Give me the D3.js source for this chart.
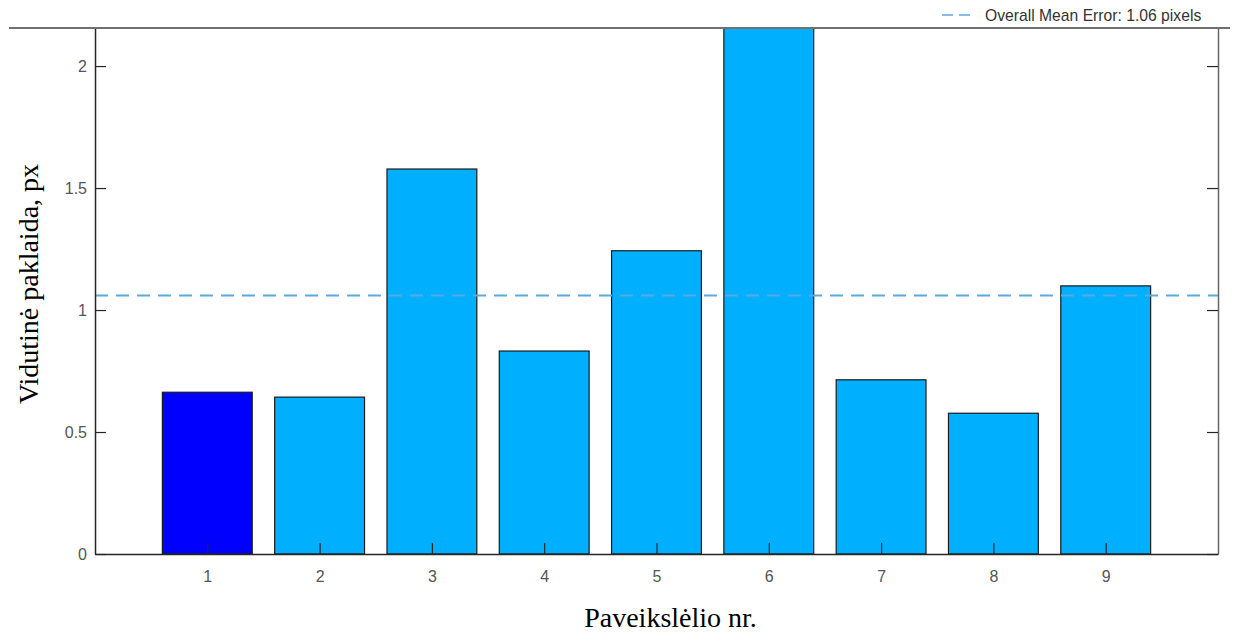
<!DOCTYPE html>
<html>
<head>
<meta charset="utf-8">
<script src="https://cdn.jsdelivr.net/npm/d3@7"></script>
<style>
  body { margin: 0; background: #fff; }
  svg { display: block; }
</style>
</head>
<body>
<svg id="chart" width="1238" height="633"></svg>
<script>
// image numbers and their mean error (px)
const images = [1, 2, 3, 4, 5, 6, 7, 8, 9];
const errors = [0.663, 0.643, 1.578, 0.832, 1.243, 2.19, 0.714, 0.577, 1.099];
const meanError = 1.06;
const yTicks = [0, 0.5, 1, 1.5, 2];
const legendText = 'Overall Mean Error: 1.06 pixels';

const svg = d3.select('#chart');
const plotL = 95, plotR = 1218, plotT = 28, plotB = 554;

// scales
const x = d3.scaleLinear().domain([0, 10]).range([plotL, plotR]);
const y = d3.scaleLinear().domain([0, 2.156]).range([plotB, plotT]);
const barW = x(0.8) - x(0);

svg.append('defs').append('clipPath').attr('id', 'clip')
  .append('rect')
  .attr('x', plotL).attr('y', plotT)
  .attr('width', plotR - plotL).attr('height', plotB - plotT);

// bars
svg.append('g').attr('clip-path', 'url(#clip)')
  .selectAll('rect')
  .data(images)
  .enter()
  .append('rect')
  .attr('x', (d) => x(d) - barW / 2)
  .attr('y', (d, i) => y(errors[i]))
  .attr('width', barW)
  .attr('height', (d, i) => plotB - y(errors[i]))
  .style('fill', (d, i) => (i === 0 ? '#0000ff' : '#00b0ff'))
  .style('stroke', '#1a1a1a')
  .style('stroke-width', 1.2);

// mean line
svg.append('line')
  .attr('x1', plotL).attr('x2', plotR)
  .attr('y1', y(meanError)).attr('y2', y(meanError))
  .style('stroke', '#5aa9e0')
  .style('stroke-width', 2)
  .style('stroke-dasharray', '13,8');

// axes
const tickCol = '#555';
const yAxis = svg.append('g')
  .attr('transform', 'translate(' + plotL + ',0)')
  .call(d3.axisLeft(y).tickValues(yTicks).tickSizeInner(-11).tickSizeOuter(0).tickPadding(8).tickFormat(d3.format('')));
const yAxisR = svg.append('g')
  .attr('transform', 'translate(' + plotR + ',0)')
  .call(d3.axisRight(y).tickValues(yTicks).tickSizeInner(-11).tickSizeOuter(0).tickFormat(''));
const xAxis = svg.append('g')
  .attr('transform', 'translate(0,' + plotB + ')')
  .call(d3.axisBottom(x).tickValues(images).tickSizeInner(-11).tickSizeOuter(0).tickPadding(17).tickFormat(d3.format('d')));

[yAxis, yAxisR, xAxis].forEach((g) => {
  g.select('.domain').style('stroke', '#262626').style('stroke-width', 1.5);
  g.selectAll('.tick line').style('stroke', '#262626').style('stroke-width', 1.2);
  g.selectAll('.tick text')
    .style('font-family', 'Liberation Sans, Arial, sans-serif')
    .style('font-size', '16px')
    .style('fill', tickCol);
});
yAxisR.select('.domain').style('stroke', '#666');

// top border line
svg.append('line')
  .attr('x1', 9).attr('x2', 1230)
  .attr('y1', plotT).attr('y2', plotT)
  .style('stroke', '#707070')
  .style('stroke-width', 2);

// legend
svg.append('line')
  .attr('x1', 942).attr('x2', 975)
  .attr('y1', 15).attr('y2', 15)
  .style('stroke', '#5aa9e0')
  .style('stroke-width', 1.5)
  .style('stroke-dasharray', '11,6');
svg.append('text')
  .attr('x', 985).attr('y', 21)
  .style('font-family', 'Liberation Sans, Arial, sans-serif')
  .style('font-size', '15.7px')
  .style('fill', '#333')
  .text(legendText);

// axis labels
svg.append('text')
  .attr('x', (plotL + plotR) / 2 + 14).attr('y', 627)
  .attr('text-anchor', 'middle')
  .style('font-family', 'Liberation Serif, Times New Roman, serif')
  .style('font-size', '28px')
  .style('fill', '#000')
  .text('Paveikslėlio nr.');

svg.append('text')
  .attr('transform', 'translate(38,' + 284 + ') rotate(-90)')
  .attr('text-anchor', 'middle')
  .style('font-family', 'Liberation Serif, Times New Roman, serif')
  .style('font-size', '28px')
  .style('fill', '#000')
  .text('Vidutinė paklaida, px');
</script>
</body>
</html>
